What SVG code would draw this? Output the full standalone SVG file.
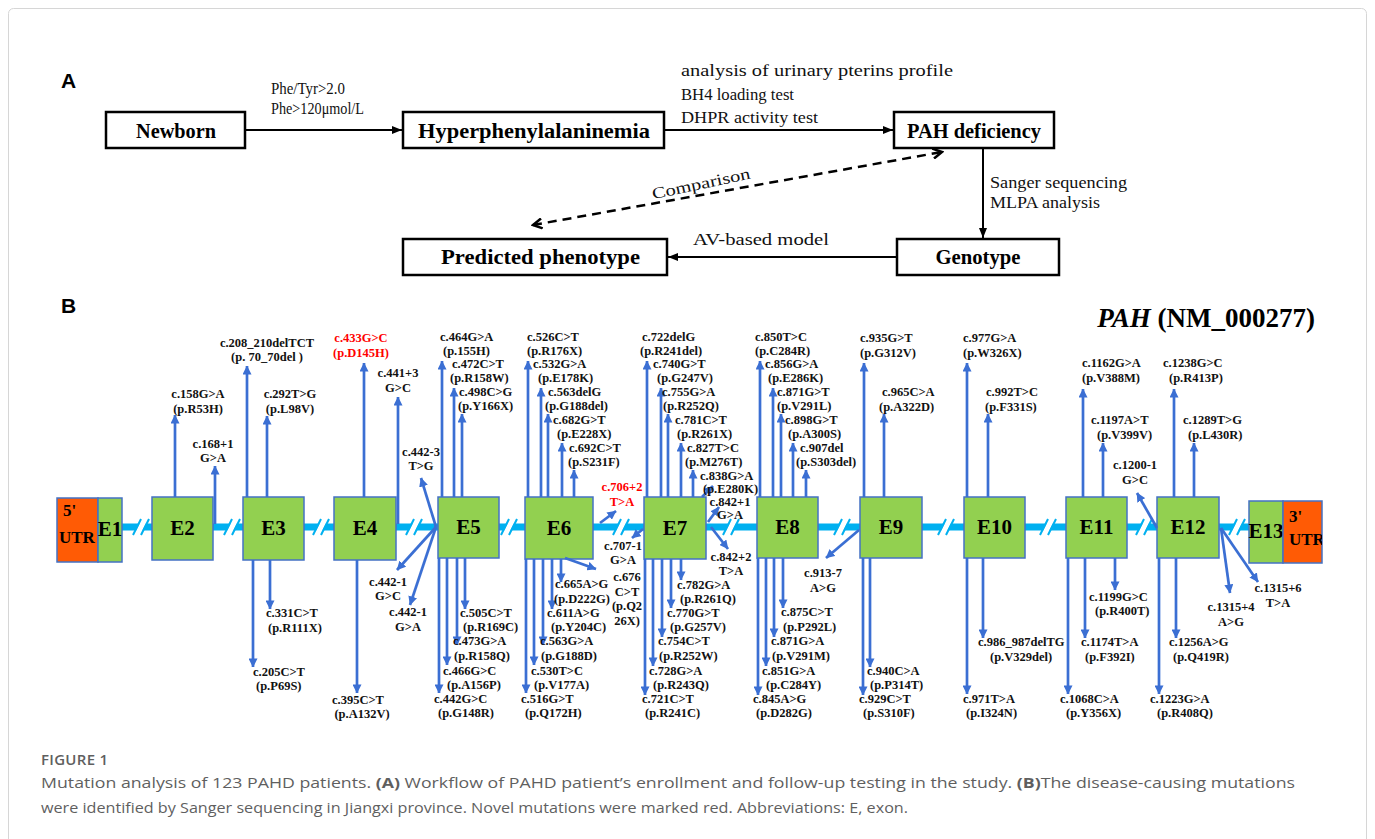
<svg xmlns="http://www.w3.org/2000/svg" width="1375" height="839" viewBox="0 0 1375 839">
<style>
.bx{fill:#fff;stroke:#000;stroke-width:2.5}
.bl{font-family:"Liberation Serif","Times New Roman",serif;font-weight:bold;font-size:20px;text-anchor:middle;fill:#000}
.el{font-family:"Liberation Serif","Times New Roman",serif;font-size:16px;fill:#111}
.ar{stroke:#000;stroke-width:2;fill:none;marker-end:url(#ah)}
.pl{font-family:"Liberation Sans",Arial,sans-serif;font-weight:bold;font-size:21px;fill:#000}
.mu{font-family:"Liberation Serif","Times New Roman",serif;font-weight:bold;font-size:12.5px;fill:#111}
.m{text-anchor:middle}
.red{fill:#ff0000}
.ex{fill:#92d050;stroke:#4472c4;stroke-width:1.5}
.ut{fill:#ff5b05;stroke:#4472c4;stroke-width:1.5}
.et{font-family:"Liberation Serif","Times New Roman",serif;font-weight:bold;font-size:21px;text-anchor:middle;fill:#000}
.ut5{font-family:"Liberation Serif","Times New Roman",serif;font-weight:bold;font-size:17px;fill:#000}
.ma path{stroke:#3b6fd3;stroke-width:2.7;fill:none;marker-end:url(#bh)}
.cap{font-family:"Open Sans","Noto Sans",sans-serif;font-size:15px;fill:#5f5f5f}
</style>
<defs>
<marker id="ah" viewBox="0 0 10 8" refX="10" refY="4" markerWidth="10" markerHeight="8" orient="auto" markerUnits="userSpaceOnUse"><path d="M0,0L10,4L0,8z" fill="#000"/></marker>
<marker id="ch" viewBox="0 0 12 12" refX="10" refY="6" markerWidth="12" markerHeight="12" orient="auto-start-reverse" markerUnits="userSpaceOnUse"><path d="M1,1L10,6L1,11" fill="none" stroke="#000" stroke-width="2.5"/></marker>
<marker id="bh" viewBox="0 0 10 10" refX="9.5" refY="5" markerWidth="9" markerHeight="9" orient="auto" markerUnits="userSpaceOnUse"><path d="M0,0L10,5L0,10z" fill="#3b6fd3"/></marker>
<g id="brk"><path d="M-2.5,5L2.5,-5" stroke="#fff" stroke-width="5.5"/><path d="M-8,8L0,-8M0,8L8,-8" stroke="#00b0f0" stroke-width="2"/></g>
<clipPath id="c3"><rect x="1283" y="501" width="39" height="62"/></clipPath>
</defs>
<rect x="8.5" y="8.5" width="1358" height="850" rx="5" fill="#fff" stroke="#d6d6d6" stroke-width="1"/>

<!-- Panel A -->
<text class="pl" x="61" y="88">A</text>
<g id="newborn"><rect class="bx" x="106" y="112" width="139" height="36"/><text class="bl" x="176" y="138" textLength="80" lengthAdjust="spacingAndGlyphs">Newborn</text></g>
<g id="hpa"><rect class="bx" x="403" y="112" width="261" height="36"/><text class="bl" x="534" y="138" textLength="232" lengthAdjust="spacingAndGlyphs">Hyperphenylalaninemia</text></g>
<g id="pahd"><rect class="bx" x="894" y="112" width="160" height="36"/><text class="bl" x="974" y="138" textLength="134" lengthAdjust="spacingAndGlyphs">PAH deficiency</text></g>
<g id="genotype"><rect class="bx" x="897" y="239" width="162" height="36"/><text class="bl" x="978" y="264" textLength="85" lengthAdjust="spacingAndGlyphs">Genotype</text></g>
<g id="predicted"><rect class="bx" x="403" y="239" width="264" height="36"/><text class="bl" x="540.5" y="264" textLength="199" lengthAdjust="spacingAndGlyphs">Predicted phenotype</text></g>
<g id="connectorsA">
<path class="ar" d="M245,130H402"/>
<path class="ar" d="M664,130H893"/>
<path class="ar" d="M983,148V238"/>
<path class="ar" d="M897,257H668"/>
<path d="M533,225L942,152" stroke="#000" stroke-width="2.5" stroke-dasharray="9,6" fill="none" marker-start="url(#ch)" marker-end="url(#ch)"/>
<text class="el" x="271" y="94" font-size="15" textLength="74" lengthAdjust="spacingAndGlyphs">Phe/Tyr&gt;2.0</text>
<text class="el" x="271" y="114" font-size="15" textLength="93" lengthAdjust="spacingAndGlyphs">Phe&gt;120μmol/L</text>
<text class="el" x="681" y="76" textLength="272" lengthAdjust="spacingAndGlyphs">analysis of urinary pterins profile</text>
<text class="el" x="681" y="100" textLength="113" lengthAdjust="spacingAndGlyphs">BH4 loading test</text>
<text class="el" x="681" y="123" textLength="137" lengthAdjust="spacingAndGlyphs">DHPR activity test</text>
<text class="el" x="990" y="188" textLength="137" lengthAdjust="spacingAndGlyphs">Sanger sequencing</text>
<text class="el" x="990" y="208" textLength="110" lengthAdjust="spacingAndGlyphs">MLPA analysis</text>
<text class="el" x="693" y="245" textLength="136" lengthAdjust="spacingAndGlyphs">AV-based model</text>
<text class="el" x="701" y="189" text-anchor="middle" transform="rotate(-12 701 184)" textLength="100" lengthAdjust="spacingAndGlyphs">Comparison</text>
</g>

<!-- Panel B -->
<text class="pl" x="61" y="313">B</text>
<text x="1315" y="327" text-anchor="end" font-family="Liberation Serif,Times New Roman,serif" font-weight="bold" font-size="27" fill="#000"><tspan font-style="italic">PAH</tspan> (NM_000277)</text>

<g id="backbone">
<path d="M122,527H1249" stroke="#00b0f0" stroke-width="7"/>
<use href="#brk" x="141" y="527"/><use href="#brk" x="232" y="527"/><use href="#brk" x="321" y="527"/><use href="#brk" x="414" y="527"/><use href="#brk" x="509" y="527"/><use href="#brk" x="621" y="527"/><use href="#brk" x="731" y="527"/><use href="#brk" x="842" y="527"/><use href="#brk" x="946" y="527"/><use href="#brk" x="1048" y="527"/><use href="#brk" x="1144" y="527"/><use href="#brk" x="1237" y="527"/>
</g>

<g id="utr5"><rect class="ut" x="57" y="498" width="41" height="64"/><text class="ut5" x="63" y="516">5'</text><text class="ut5" x="59" y="543">UTR</text></g>
<g id="e1"><rect class="ex" x="98" y="498" width="24" height="64"/><text class="et" x="110" y="536" font-size="20">E1</text></g>
<g id="e2"><rect class="ex" x="152" y="497" width="61" height="63"/><text class="et" x="182.5" y="535">E2</text></g>
<g id="e3"><rect class="ex" x="243" y="497" width="61" height="63"/><text class="et" x="273.5" y="535">E3</text></g>
<g id="e4"><rect class="ex" x="334" y="497" width="62" height="63"/><text class="et" x="365" y="535">E4</text></g>
<g id="e5"><rect class="ex" x="438" y="497" width="61" height="61"/><text class="et" x="468.5" y="534">E5</text></g>
<g id="e6"><rect class="ex" x="525" y="497" width="68" height="62"/><text class="et" x="559" y="535">E6</text></g>
<g id="e7"><rect class="ex" x="644" y="497" width="62" height="62"/><text class="et" x="675" y="535">E7</text></g>
<g id="e8"><rect class="ex" x="757" y="497" width="61" height="61"/><text class="et" x="787.5" y="534">E8</text></g>
<g id="e9"><rect class="ex" x="860" y="497" width="62" height="61"/><text class="et" x="891" y="534">E9</text></g>
<g id="e10"><rect class="ex" x="964" y="497" width="61" height="61"/><text class="et" x="994.5" y="534">E10</text></g>
<g id="e11"><rect class="ex" x="1066" y="497" width="61" height="61"/><text class="et" x="1096.5" y="534">E11</text></g>
<g id="e12"><rect class="ex" x="1157" y="497" width="62" height="61"/><text class="et" x="1188" y="534">E12</text></g>
<g id="e13"><rect class="ex" x="1249" y="501" width="34" height="62"/><text class="et" x="1266" y="538" font-size="20">E13</text></g>
<g id="utr3"><rect class="ut" x="1283" y="501" width="39" height="62"/><g clip-path="url(#c3)"><text class="ut5" x="1289" y="522">3'</text><text class="ut5" x="1289" y="545">UTR</text></g></g>

<g id="connectorsB" class="ma">
<path d="M175,497V415"/><path d="M215,524V466"/>
<path d="M247,497V366"/><path d="M267,497V416"/>
<path d="M364,497V363"/><path d="M398,524V397"/>
<path d="M436,527L421,478"/><path d="M436,527L397,570"/><path d="M436,527L410,605"/>
<path d="M442,497V361"/><path d="M454,497V388"/><path d="M462,497V414"/>
<path d="M528,497V361"/><path d="M541,497V388"/><path d="M548,497V414"/><path d="M562,497V443"/><path d="M574,497V470"/>
<path d="M600,523L616,511"/><path d="M643,529L632,538"/>
<path d="M647,497V361"/><path d="M661,497V388"/><path d="M668,497V414"/><path d="M681,497V443"/><path d="M693,497V470"/>
<path d="M702,497L713,486"/><path d="M708,522L719,507"/><path d="M711,527L728,549"/>
<path d="M760,497V361"/><path d="M773,497V388"/><path d="M781,497V414"/><path d="M793,497V443"/><path d="M806,497V470"/>
<path d="M864,497V363"/><path d="M884,497V414"/>
<path d="M967,497V363"/><path d="M988,497V414"/>
<path d="M1083,497V389"/><path d="M1103,497V443"/>
<path d="M1157,528L1137,493"/>
<path d="M1174,497V389"/><path d="M1194,497V443"/>
<path d="M253,560V667"/><path d="M270,560V609"/>
<path d="M357,560V693"/>
<path d="M439,558V693"/><path d="M447,558V665"/><path d="M457,558V645"/><path d="M465,558V609"/>
<path d="M526,559V693"/><path d="M534,559V665"/><path d="M543,559V645"/><path d="M552,559V609"/><path d="M561,559V582"/>
<path d="M565,558L596,569"/>
<path d="M645,559V695"/><path d="M653,559V666"/><path d="M662,559V637"/><path d="M671,559V608"/><path d="M681,559V580"/>
<path d="M758,558V695"/><path d="M766,558V666"/><path d="M774,558V637"/><path d="M783,558V608"/>
<path d="M859,530L826,558"/>
<path d="M863,558V695"/><path d="M870,558V667"/>
<path d="M967,558V694"/><path d="M983,558V638"/>
<path d="M1068,558V694"/><path d="M1085,558V638"/><path d="M1115,558V590"/>
<path d="M1159,558V694"/><path d="M1176,558V638"/>
<path d="M1221,528L1230,593"/><path d="M1221,528L1258,582"/>
</g>

<g id="labelsB">
<text class="mu m" x="198" y="398">c.158G&gt;A<tspan x="198" y="412.5">(p.R53H)</tspan></text>
<text class="mu m" x="213" y="448">c.168+1<tspan x="213" y="462">G&gt;A</tspan></text>
<text class="mu m" x="267" y="347">c.208_210delTCT<tspan x="267" y="361">(p. 70_70del )</tspan></text>
<text class="mu m" x="290" y="398">c.292T&gt;G<tspan x="290" y="412.5">(p.L98V)</tspan></text>
<text class="mu m red" x="361" y="342">c.433G&gt;C<tspan x="361" y="356.5">(p.D145H)</tspan></text>
<text class="mu m" x="398" y="377">c.441+3<tspan x="398" y="391.5">G&gt;C</tspan></text>
<text class="mu m" x="421" y="456">c.442-3<tspan x="421" y="470">T&gt;G</tspan></text>
<text class="mu" x="440" y="341">c.464G&gt;A<tspan x="443" y="355">(p.155H)</tspan></text>
<text class="mu" x="452" y="368">c.472C&gt;T<tspan x="450" y="382">(p.R158W)</tspan></text>
<text class="mu" x="459" y="396">c.498C&gt;G<tspan x="458" y="410">(p.Y166X)</tspan></text>
<text class="mu" x="527" y="341">c.526C&gt;T<tspan x="527" y="355">(p.R176X)</tspan></text>
<text class="mu" x="533" y="368">c.532G&gt;A<tspan x="538" y="382">(p.E178K)</tspan></text>
<text class="mu" x="548" y="396">c.563delG<tspan x="545" y="410">(p.G188del)</tspan></text>
<text class="mu" x="553" y="424">c.682G&gt;T<tspan x="557" y="438">(p.E228X)</tspan></text>
<text class="mu" x="569" y="452">c.692C&gt;T<tspan x="568" y="466">(p.S231F)</tspan></text>
<text class="mu m red" x="622" y="491">c.706+2<tspan x="622" y="506">T&gt;A</tspan></text>
<text class="mu" x="642" y="341">c.722delG<tspan x="640" y="355">(p.R241del)</tspan></text>
<text class="mu" x="653" y="368">c.740G&gt;T<tspan x="657" y="382">(p.G247V)</tspan></text>
<text class="mu" x="662" y="396">c.755G&gt;A<tspan x="663" y="410">(p.R252Q)</tspan></text>
<text class="mu" x="675" y="424">c.781C&gt;T<tspan x="677" y="438">(p.R261X)</tspan></text>
<text class="mu" x="687" y="452">c.827T&gt;C<tspan x="685" y="466">(p.M276T)</tspan></text>
<text class="mu" x="700" y="480">c.838G&gt;A<tspan x="703" y="493">(p.E280K)</tspan></text>
<text class="mu m" x="730" y="506">c.842+1<tspan x="730" y="519">G&gt;A</tspan></text>
<text class="mu m" x="731" y="561">c.842+2<tspan x="731" y="575">T&gt;A</tspan></text>
<text class="mu" x="755" y="341">c.850T&gt;C<tspan x="755" y="355">(p.C284R)</tspan></text>
<text class="mu" x="765" y="368">c.856G&gt;A<tspan x="768" y="382">(p.E286K)</tspan></text>
<text class="mu" x="777" y="396">c.871G&gt;T<tspan x="777" y="410">(p.V291L)</tspan></text>
<text class="mu" x="785" y="424">c.898G&gt;T<tspan x="788" y="438">(p.A300S)</tspan></text>
<text class="mu" x="800" y="452">c.907del<tspan x="796" y="466">(p.S303del)</tspan></text>
<text class="mu" x="860" y="342">c.935G&gt;T<tspan x="860" y="357">(p.G312V)</tspan></text>
<text class="mu" x="882" y="396">c.965C&gt;A<tspan x="879" y="411">(p.A322D)</tspan></text>
<text class="mu" x="963" y="342">c.977G&gt;A<tspan x="963" y="357">(p.W326X)</tspan></text>
<text class="mu" x="986" y="396">c.992T&gt;C<tspan x="985" y="411">(p.F331S)</tspan></text>
<text class="mu" x="1082" y="367">c.1162G&gt;A<tspan x="1082" y="382">(p.V388M)</tspan></text>
<text class="mu" x="1091" y="424">c.1197A&gt;T<tspan x="1097" y="439">(p.V399V)</tspan></text>
<text class="mu m" x="1135" y="469">c.1200-1<tspan x="1135" y="484">G&gt;C</tspan></text>
<text class="mu" x="1163" y="367">c.1238G&gt;C<tspan x="1169" y="382">(p.R413P)</tspan></text>
<text class="mu" x="1183" y="424">c.1289T&gt;G<tspan x="1188" y="439">(p.L430R)</tspan></text>

<text class="mu" x="266" y="617">c.331C&gt;T<tspan x="268" y="632">(p.R111X)</tspan></text>
<text class="mu" x="253" y="676">c.205C&gt;T<tspan x="256" y="690">(p.P69S)</tspan></text>
<text class="mu m" x="358" y="704">c.395C&gt;T<tspan x="362" y="718">(p.A132V)</tspan></text>
<text class="mu m" x="388" y="586">c.442-1<tspan x="388" y="600">G&gt;C</tspan></text>
<text class="mu m" x="408" y="616">c.442-1<tspan x="408" y="631">G&gt;A</tspan></text>
<text class="mu" x="460" y="617">c.505C&gt;T<tspan x="463" y="631">(p.R169C)</tspan></text>
<text class="mu" x="453" y="645">c.473G&gt;A<tspan x="454" y="660">(p.R158Q)</tspan></text>
<text class="mu" x="443" y="675">c.466G&gt;C<tspan x="447" y="689">(p.A156P)</tspan></text>
<text class="mu" x="434" y="703">c.442G&gt;C<tspan x="438" y="717">(p.G148R)</tspan></text>
<text class="mu" x="555" y="588">c.665A&gt;G<tspan x="554" y="603">(p.D222G)</tspan></text>
<text class="mu" x="547" y="617">c.611A&gt;G<tspan x="551" y="631">(p.Y204C)</tspan></text>
<text class="mu" x="540" y="645">c.563G&gt;A<tspan x="541" y="660">(p.G188D)</tspan></text>
<text class="mu" x="531" y="675">c.530T&gt;C<tspan x="534" y="689">(p.V177A)</tspan></text>
<text class="mu" x="521" y="703">c.516G&gt;T<tspan x="525" y="717">(p.Q172H)</tspan></text>
<text class="mu m" x="623" y="550">c.707-1<tspan x="623" y="564">G&gt;A</tspan></text>
<text class="mu m" x="627" y="581">c.676<tspan x="627" y="596">C&gt;T</tspan><tspan x="627" y="610">(p.Q2</tspan><tspan x="627" y="625">26X)</tspan></text>
<text class="mu" x="677" y="589">c.782G&gt;A<tspan x="680" y="603">(p.R261Q)</tspan></text>
<text class="mu" x="667" y="617">c.770G&gt;T<tspan x="670" y="631">(p.G257V)</tspan></text>
<text class="mu" x="658" y="645">c.754C&gt;T<tspan x="659" y="660">(p.R252W)</tspan></text>
<text class="mu" x="649" y="675">c.728G&gt;A<tspan x="653" y="689">(p.R243Q)</tspan></text>
<text class="mu" x="642" y="703">c.721C&gt;T<tspan x="645" y="717">(p.R241C)</tspan></text>
<text class="mu" x="781" y="616">c.875C&gt;T<tspan x="783" y="631">(p.P292L)</tspan></text>
<text class="mu" x="771" y="645">c.871G&gt;A<tspan x="772" y="660">(p.V291M)</tspan></text>
<text class="mu" x="762" y="675">c.851G&gt;A<tspan x="766" y="689">(p.C284Y)</tspan></text>
<text class="mu" x="753" y="703">c.845A&gt;G<tspan x="756" y="717">(p.D282G)</tspan></text>
<text class="mu m" x="823" y="577">c.913-7<tspan x="823" y="592">A&gt;G</tspan></text>
<text class="mu" x="867" y="675">c.940C&gt;A<tspan x="870" y="689">(p.P314T)</tspan></text>
<text class="mu" x="859" y="703">c.929C&gt;T<tspan x="863" y="717">(p.S310F)</tspan></text>
<text class="mu" x="978" y="646">c.986_987delTG<tspan x="990" y="661">(p.V329del)</tspan></text>
<text class="mu" x="963" y="703">c.971T&gt;A<tspan x="966" y="717">(p.I324N)</tspan></text>
<text class="mu" x="1089" y="601">c.1199G&gt;C<tspan x="1095" y="615">(p.R400T)</tspan></text>
<text class="mu" x="1081" y="646">c.1174T&gt;A<tspan x="1085" y="661">(p.F392I)</tspan></text>
<text class="mu" x="1060" y="703">c.1068C&gt;A<tspan x="1066" y="717">(p.Y356X)</tspan></text>
<text class="mu" x="1169" y="646">c.1256A&gt;G<tspan x="1173" y="661">(p.Q419R)</tspan></text>
<text class="mu" x="1150" y="703">c.1223G&gt;A<tspan x="1157" y="717">(p.R408Q)</tspan></text>
<text class="mu m" x="1231" y="611">c.1315+4<tspan x="1231" y="626">A&gt;G</tspan></text>
<text class="mu m" x="1278" y="592">c.1315+6<tspan x="1278" y="607">T&gt;A</tspan></text>
</g>

<g id="caption">
<text class="cap" x="41" y="765" font-weight="600" fill="#555" letter-spacing="0.3">FIGURE 1</text>
<text class="cap" x="41" y="788" textLength="1254" lengthAdjust="spacingAndGlyphs">Mutation analysis of 123 PAHD patients. <tspan font-weight="bold">(A)</tspan> Workflow of PAHD patient’s enrollment and follow-up testing in the study. <tspan font-weight="bold">(B)</tspan>The disease-causing mutations</text>
<text class="cap" x="41" y="813" textLength="867" lengthAdjust="spacingAndGlyphs">were identified by Sanger sequencing in Jiangxi province. Novel mutations were marked red. Abbreviations: E, exon.</text>
</g>
</svg>
